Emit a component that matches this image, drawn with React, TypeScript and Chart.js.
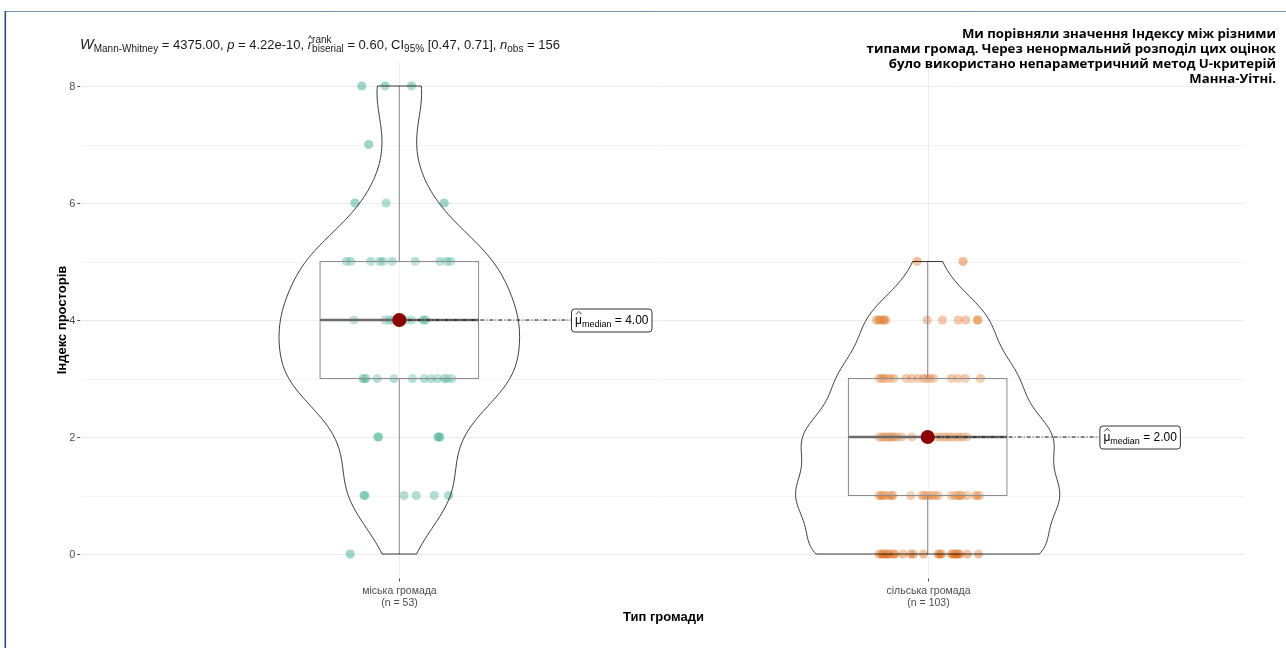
import React, { useEffect, useRef } from "react";
import { Chart, registerables } from "chart.js";
Chart.register(...registerables);

// ---------------- data ----------------
const categories = ["міська громада", "сільська громада"];
const groupCounts = [53, 103];
const yTicks = [0, 2, 4, 6, 8];
const yMinorTicks = [1, 3, 5, 7];

const cityY = [
  8, 8, 8,
  7,
  6, 6, 6,
  5, 5, 5, 5, 5, 5, 5, 5, 5, 5,
  4, 4, 4, 4, 4, 4, 4, 4, 4, 4, 4, 4,
  3, 3, 3, 3, 3, 3, 3, 3, 3, 3, 3, 3,
  2, 2, 2, 2, 2,
  1, 1, 1, 1, 1, 1,
  0,
];
const cityJitter = [
  -0.071, -0.027, 0.023,
  -0.058,
  -0.084, -0.025, 0.085,
  -0.1, -0.092, -0.054, -0.037, -0.031, -0.014, 0.03, 0.077, 0.09, 0.097,
  -0.086, -0.027, -0.019, -0.014, 0.0, 0.011, 0.023, 0.045, 0.05, 0.047, -0.006, 0.006,
  -0.069, -0.063, -0.042, -0.01, 0.025, 0.047, 0.06, 0.072, 0.085, 0.09, 0.099, -0.066,
  -0.041, -0.039, 0.073, 0.075, 0.077,
  -0.067, -0.065, 0.009, 0.032, 0.066, 0.093,
  -0.093,
];

const ruralY = [
  5, 5,
  4, 4, 4, 4, 4, 4, 4, 4, 4, 4, 4, 4,
  3, 3, 3, 3, 3, 3, 3, 3, 3, 3, 3, 3, 3, 3, 3, 3, 3,
  2, 2, 2, 2, 2, 2, 2, 2, 2, 2, 2, 2, 2, 2, 2, 2, 2, 2, 2, 2, 2, 2, 2, 2,
  1, 1, 1, 1, 1, 1, 1, 1, 1, 1, 1, 1, 1, 1, 1, 1, 1, 1, 1, 1, 1, 1, 1, 1, 1,
  0, 0, 0, 0, 0, 0, 0, 0, 0, 0, 0, 0, 0, 0, 0, 0, 0, 0, 0, 0, 0, 0, 0,
];
const ruralJitter = [
  -0.02, 0.067,
  -0.097, -0.09, -0.084, -0.079, -0.001, 0.028, 0.058, 0.072, 0.094, 0.095, -0.093, -0.083,
  -0.092, -0.084, -0.078, -0.071, -0.064, -0.041, -0.03, -0.018, -0.008, -0.002, 0.004, 0.011, 0.045, 0.057, 0.071, 0.1, -0.087,
  -0.092, -0.087, -0.081, -0.076, -0.071, -0.066, -0.062, -0.056, -0.049, -0.03, 0.017, 0.023, 0.03, 0.036, 0.042, 0.048, 0.055, 0.061, 0.067, 0.074, -0.084, -0.075, -0.068, 0.006,
  -0.092, -0.087, -0.083, -0.078, -0.071, -0.066, -0.032, -0.011, -0.007, -0.002, 0.003, 0.008, 0.014, 0.02, 0.045, 0.052, 0.058, 0.064, 0.074, 0.09, 0.094, 0.098, -0.089, -0.068, 0.061,
  -0.092, -0.084, -0.079, -0.073, -0.062, -0.047, -0.032, -0.027, -0.008, 0.02, 0.026, 0.045, 0.052, 0.058, 0.061, 0.075, 0.096, -0.087, -0.076, -0.065, 0.023, 0.048, 0.055,
];

const groupColors = ["rgba(27,158,119,0.42)", "rgba(217,95,2,0.42)"];
const medianLabels = ["4.00", "2.00"];
const yTitle = "Індекс просторів";
const xTitle = "Тип громади";
const noteLines = [
  "Ми порівняли значення Індексу між різними",
  "типами громад. Через ненормальний розподіл цих оцінок",
  "було використано непараметричний метод U-критерій",
  "Манна-Уітні.",
];

// ---------------- helpers ----------------
const FONT = '"Liberation Sans", Arial, sans-serif';

function quantile(sorted: number[], p: number) {
  const h = (sorted.length - 1) * p;
  const lo = Math.floor(h);
  const hi = Math.ceil(h);
  return sorted[lo] + (h - lo) * (sorted[hi] - sorted[lo]);
}
function sd(v: number[]) {
  const m = v.reduce((a, b) => a + b, 0) / v.length;
  return Math.sqrt(v.reduce((a, b) => a + (b - m) * (b - m), 0) / (v.length - 1));
}
function bwNrd0(v: number[]) {
  const s = [...v].sort((a, b) => a - b);
  const iqr = quantile(s, 0.75) - quantile(s, 0.25);
  const lo = Math.min(sd(v), iqr / 1.34);
  return 0.9 * lo * Math.pow(v.length, -0.2);
}
function kde(v: number[], bw: number, y: number) {
  let s = 0;
  for (const x of v) {
    const z = (y - x) / bw;
    s += Math.exp(-0.5 * z * z);
  }
  return s / (v.length * bw * Math.sqrt(2 * Math.PI));
}

type Seg = { t: string; size: number; dy?: number; italic?: boolean; noAdvance?: boolean; hat?: boolean };
function drawRich(ctx: CanvasRenderingContext2D, segs: Seg[], x: number, y: number, color: string, draw = true) {
  let cx = x;
  for (const s of segs) {
    ctx.font = `${s.italic ? "italic " : ""}${s.size}px ${FONT}`;
    const w = ctx.measureText(s.t).width;
    if (draw) {
      ctx.fillStyle = color;
      ctx.textBaseline = "alphabetic";
      ctx.textAlign = "left";
      ctx.fillText(s.t, cx, y + (s.dy || 0));
      if (s.hat) {
        const top = y + (s.dy || 0) - s.size * 0.8;
        ctx.strokeStyle = color;
        ctx.lineWidth = 0.8;
        ctx.beginPath();
        ctx.moveTo(cx + w * 0.15, top);
        ctx.lineTo(cx + w * 0.55, top - 3);
        ctx.lineTo(cx + w * 0.95, top);
        ctx.stroke();
      }
    }
    if (!s.noAdvance) cx += w;
  }
  return cx - x;
}

const subtitleSegs: Seg[] = [
  { t: "W", size: 14.5, italic: true },
  { t: "Mann-Whitney", size: 10, dy: 3 },
  { t: " = 4375.00, ", size: 13 },
  { t: "p", size: 13, italic: true },
  { t: " = 4.22e-10, ", size: 13 },
  { t: "r", size: 13, italic: true, hat: true },
  { t: "rank", size: 10, dy: -6, noAdvance: true },
  { t: "biserial", size: 10, dy: 3 },
  { t: " = 0.60, CI", size: 13 },
  { t: "95%", size: 10, dy: 3 },
  { t: " [0.47, 0.71], ", size: 13 },
  { t: "n", size: 13, italic: true },
  { t: "obs", size: 10, dy: 3 },
  { t: " = 156", size: 13 },
];

const groupsY = [cityY, ruralY];
const groupsJ = [cityJitter, ruralJitter];

const overlay = {
  id: "overlay",
  beforeDraw(chart: any) {
    const { ctx, chartArea: a, scales } = chart;
    const xs = scales.x;
    const ys = scales.y;
    ctx.save();
    ctx.fillStyle = "#ffffff";
    ctx.fillRect(0, 0, chart.width, chart.height);
    // frame
    ctx.strokeStyle = "rgba(31,78,121,0.6)";
    ctx.lineWidth = 1;
    ctx.beginPath();
    ctx.moveTo(5, 11.5);
    ctx.lineTo(chart.width, 11.5);
    ctx.stroke();
    ctx.strokeStyle = "#1f4e79";
    ctx.lineWidth = 1.6;
    ctx.beginPath();
    ctx.moveTo(5.3, 11);
    ctx.lineTo(5.3, chart.height);
    ctx.stroke();
    // grid
    ctx.lineWidth = 1;
    ctx.strokeStyle = "#f3f3f3";
    for (const v of yMinorTicks) {
      const py = Math.round(ys.getPixelForValue(v)) + 0.5;
      ctx.beginPath();
      ctx.moveTo(a.left, py);
      ctx.lineTo(a.right, py);
      ctx.stroke();
    }
    ctx.strokeStyle = "#ebebeb";
    for (const v of yTicks) {
      const py = Math.round(ys.getPixelForValue(v)) + 0.5;
      ctx.beginPath();
      ctx.moveTo(a.left, py);
      ctx.lineTo(a.right, py);
      ctx.stroke();
    }
    categories.forEach((_, i) => {
      const px = Math.round(xs.getPixelForValue(i + 1)) + 0.5;
      ctx.beginPath();
      ctx.moveTo(px, a.top);
      ctx.lineTo(px, a.bottom);
      ctx.stroke();
    });
    // y ticks + labels
    ctx.strokeStyle = "#555";
    ctx.fillStyle = "#4d4d4d";
    ctx.font = `11px ${FONT}`;
    ctx.textAlign = "right";
    ctx.textBaseline = "middle";
    for (const v of yTicks) {
      const py = Math.round(ys.getPixelForValue(v)) + 0.5;
      ctx.beginPath();
      ctx.moveTo(a.left - 5, py);
      ctx.lineTo(a.left - 2, py);
      ctx.stroke();
      ctx.fillText(String(v), a.left - 7, py);
    }
    // x ticks + labels
    ctx.textAlign = "center";
    ctx.font = `10.5px ${FONT}`;
    categories.forEach((c, i) => {
      const px = Math.round(xs.getPixelForValue(i + 1)) + 0.5;
      ctx.beginPath();
      ctx.moveTo(px, a.bottom + 1);
      ctx.lineTo(px, a.bottom + 4);
      ctx.stroke();
      ctx.fillText(c, px, a.bottom + 14);
      ctx.fillText(`(n = ${groupCounts[i]})`, px, a.bottom + 26);
    });
    // axis titles
    ctx.fillStyle = "#000";
    ctx.font = `bold 13px ${FONT}`;
    ctx.fillText(xTitle, (a.left + a.right) / 2, a.bottom + 40);
    ctx.save();
    ctx.translate(62, (a.top + a.bottom) / 2);
    ctx.rotate(-Math.PI / 2);
    ctx.fillText(yTitle, 0, 0);
    ctx.restore();
    // subtitle
    drawRich(ctx, subtitleSegs, 80, 49, "#1a1a1a");
    // note
    ctx.fillStyle = "#000";
    ctx.textAlign = "right";
    ctx.textBaseline = "middle";
    ctx.font = `bold 13.2px "Open Sans", "Noto Sans", sans-serif`;
    noteLines.forEach((l, i) => ctx.fillText(l, 1276, 34 + i * 15));
    ctx.restore();
  },
  afterDatasetsDraw(chart: any) {
    const { ctx, scales } = chart;
    const xs = scales.x;
    const ys = scales.y;
    const unit = xs.getPixelForValue(1) - xs.getPixelForValue(0);
    ctx.save();
    // densities
    const dens = groupsY.map((vals) => {
      const bw = bwNrd0(vals);
      const mn = Math.min(...vals);
      const mx = Math.max(...vals);
      const pts: [number, number][] = [];
      const N = 200;
      for (let k = 0; k <= N; k++) {
        const y = mn + ((mx - mn) * k) / N;
        pts.push([y, kde(vals, bw, y)]);
      }
      return pts;
    });
    const maxD = Math.max(...dens.flat().map((p) => p[1]));
    groupsY.forEach((vals, i) => {
      const c = xs.getPixelForValue(i + 1);
      const s = [...vals].sort((a, b) => a - b);
      const q1 = quantile(s, 0.25);
      const q3 = quantile(s, 0.75);
      const med = quantile(s, 0.5);
      const iqr = q3 - q1;
      const lw = Math.min(...s.filter((v) => v >= q1 - 1.5 * iqr));
      const uw = Math.max(...s.filter((v) => v <= q3 + 1.5 * iqr));
      const bh = 0.15 * unit;
      // box
      ctx.fillStyle = "rgba(255,255,255,0.2)";
      ctx.strokeStyle = "#707070";
      ctx.lineWidth = 1;
      const yq1 = ys.getPixelForValue(q1);
      const yq3 = ys.getPixelForValue(q3);
      ctx.beginPath();
      ctx.moveTo(c, ys.getPixelForValue(uw));
      ctx.lineTo(c, yq3);
      ctx.moveTo(c, yq1);
      ctx.lineTo(c, ys.getPixelForValue(lw));
      ctx.stroke();
      ctx.fillRect(c - bh, yq3, 2 * bh, yq1 - yq3);
      ctx.strokeRect(c - bh, yq3, 2 * bh, yq1 - yq3);
      ctx.strokeStyle = "#474747";
      ctx.lineWidth = 2.4;
      ctx.beginPath();
      ctx.moveTo(c - bh, ys.getPixelForValue(med));
      ctx.lineTo(c + bh, ys.getPixelForValue(med));
      ctx.stroke();
      // violin
      const pts = dens[i];
      ctx.beginPath();
      pts.forEach(([y, d], k) => {
        const px = c - (0.25 * unit * d) / maxD;
        const py = ys.getPixelForValue(y);
        if (k === 0) ctx.moveTo(px, py);
        else ctx.lineTo(px, py);
      });
      for (let k = pts.length - 1; k >= 0; k--) {
        const [y, d] = pts[k];
        ctx.lineTo(c + (0.25 * unit * d) / maxD, ys.getPixelForValue(y));
      }
      ctx.closePath();
      ctx.fillStyle = "rgba(255,255,255,0.2)";
      ctx.fill();
      ctx.strokeStyle = "rgba(0,0,0,0.85)";
      ctx.lineWidth = 0.9;
      ctx.stroke();
      // centrality label
      const my = ys.getPixelForValue(med);
      const lx = xs.getPixelForValue(i + 1 + 0.325);
      const segs: Seg[] = [
        { t: "μ", size: 12, hat: true },
        { t: "median", size: 9, dy: 3 },
        { t: ` = ${medianLabels[i]}`, size: 12 },
      ];
      const tw = drawRich(ctx, segs, 0, 0, "#000", false);
      ctx.strokeStyle = "#111";
      ctx.lineWidth = 1;
      ctx.setLineDash([4, 2, 1, 2]);
      ctx.beginPath();
      ctx.moveTo(c, my);
      ctx.lineTo(lx, my);
      ctx.stroke();
      ctx.setLineDash([]);
      // median point
      ctx.fillStyle = "#8b0000";
      ctx.beginPath();
      ctx.arc(c, my, 7, 0, Math.PI * 2);
      ctx.fill();
      // box label
      const bw = tw + 7;
      const bht = 23;
      ctx.fillStyle = "#fff";
      ctx.strokeStyle = "#333";
      ctx.lineWidth = 1;
      ctx.beginPath();
      (ctx as any).roundRect(lx + 0.5, my - bht / 2 + 0.5, bw, bht, 3);
      ctx.fill();
      ctx.stroke();
      drawRich(ctx, segs, lx + 4, my + 4, "#000");
    });
    ctx.restore();
  },
};

export default function App() {
  const ref = useRef<HTMLCanvasElement>(null);
  useEffect(() => {
    const canvas = ref.current!;
    const datasets = groupsY.map((vals, i) => ({
      label: categories[i],
      data: vals.map((v, k) => ({ x: i + 1 + groupsJ[i][k], y: v })),
      backgroundColor: groupColors[i],
      borderWidth: 0,
      pointRadius: 4.6,
    }));
    const chart = new Chart(canvas, {
      type: "scatter",
      data: { datasets },
      options: {
        animation: false,
        responsive: false,
        devicePixelRatio: 1,
        layout: { padding: { left: 82.3, right: 41.3, top: 62.6, bottom: 70.6 } },
        plugins: { legend: { display: false }, tooltip: { enabled: false } },
        scales: {
          x: { type: "linear", min: 0.4, max: 2.6, display: false },
          y: { type: "linear", min: -0.4, max: 8.4, display: false },
        },
      },
      plugins: [overlay],
    } as any);
    return () => chart.destroy();
  }, []);
  return (
    <div style={{ position: "absolute", left: 0, top: 0, width: 1286, height: 648 }}>
      <canvas ref={ref} width={1286} height={648} style={{ width: 1286, height: 648, display: "block" }} />
    </div>
  );
}
